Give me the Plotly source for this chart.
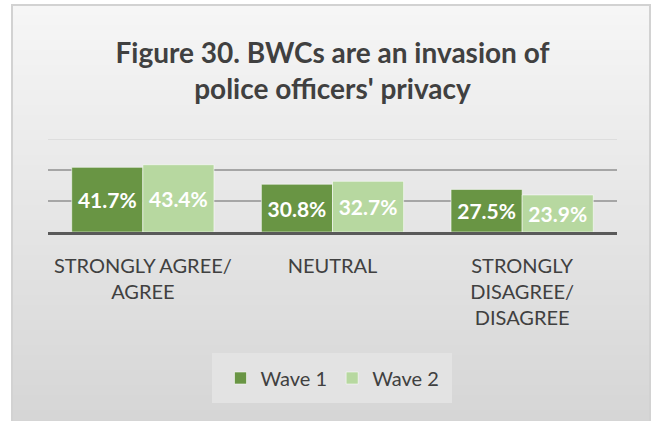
import plotly.graph_objects as go

categories = ["STRONGLY AGREE/<br>AGREE", "NEUTRAL", "STRONGLY<br>DISAGREE/<br>DISAGREE"]
wave1 = [41.7, 30.8, 27.5]
wave2 = [43.4, 32.7, 23.9]
series_names = ["Wave 1", "Wave 2"]
grid_ticks = [20, 40]
top_value = 60

W, H = 654, 421
L, R, T, B = 48, 37, 139, 189
PW = W - L - R
PH = H - T - B


def px_x(px):
    return (px - L) / PW


def px_y(py):
    return (H - B - py) / PH


fig = go.Figure()
for vals, name, col in [(wave1, series_names[0], "#699544"), (wave2, series_names[1], "#B7D8A0")]:
    fig.add_trace(go.Bar(
        x=categories, y=vals, name=name,
        marker=dict(color=col, line=dict(color="rgba(255,255,255,0.55)", width=1)),
        texttemplate="%{y:.1f}%", textposition="inside", insidetextanchor="middle",
        textangle=0, constraintext="none",
        textfont=dict(family="Lato", size=21, color="white", weight="bold"),
    ))

shapes = []
# gradient background bands
x0, x1, y0, y1 = 12, 650, 5, 430
n = 85
top_c, bot_c = 246, 213
for i in range(n):
    ya = y0 + (y1 - y0) * i / n
    yb = y0 + (y1 - y0) * (i + 1) / n + 0.6
    c = round(top_c + (bot_c - top_c) * i / (n - 1))
    shapes.append(dict(type="rect", xref="paper", yref="paper", layer="below",
                       x0=px_x(x0), x1=px_x(x1), y0=px_y(ya), y1=px_y(yb),
                       fillcolor=f"rgb({c},{c},{c})", line=dict(width=0)))
# frame
shapes.append(dict(type="rect", xref="paper", yref="paper", layer="below",
                   x0=px_x(x0), x1=px_x(x1), y0=px_y(y0), y1=px_y(y1),
                   fillcolor="rgba(0,0,0,0)", line=dict(color="#d2d2d2", width=2)))
# legend box
shapes.append(dict(type="rect", xref="paper", yref="paper", layer="below",
                   x0=px_x(212), x1=px_x(452), y0=px_y(353), y1=px_y(403),
                   fillcolor="#e3e3e3", line=dict(width=0)))
# top lighter gridline
shapes.append(dict(type="line", xref="paper", yref="y", layer="below",
                   x0=0, x1=1, y0=top_value, y1=top_value,
                   line=dict(color="#d8d8d8", width=1.5)))

fig.update_layout(
    width=W, height=H,
    margin=dict(l=L, r=R, t=T, b=B, pad=0),
    paper_bgcolor="white", plot_bgcolor="rgba(0,0,0,0)",
    barmode="group", bargap=0.25, bargroupgap=0.0,
    font=dict(family="Lato", color="#404040"),
    title=dict(text="Figure 30. BWCs are an invasion of<br>police officers' privacy",
               x=0.5, xanchor="center", xref="paper", y=1 - 63 / H, yanchor="middle",
               yref="container",
               font=dict(family="Lato", size=28, color="#404040", weight="bold")),
    showlegend=True,
    legend=dict(orientation="h", x=0.5, xanchor="center", xref="paper",
                y=px_y(378), yanchor="middle", bgcolor="rgba(0,0,0,0)",
                font=dict(family="Lato", size=20, color="#404040"),
                itemwidth=30, traceorder="normal"),
    shapes=shapes,
)
fig.update_xaxes(showline=True, linecolor="#595959", linewidth=3, ticks="",
                 tickfont=dict(family="Lato", size=20, color="#404040"),
                 ticklabelstandoff=14, showgrid=False, fixedrange=True)
fig.update_yaxes(range=[0, top_value], tickvals=grid_ticks, showticklabels=False,
                 showgrid=True, gridcolor="#a6a6a6", gridwidth=1.5, zeroline=False,
                 showline=False, fixedrange=True)

fig.write_html("out.html", config={"displayModeBar": False},
               post_script="document.body.style.margin='0';document.body.style.overflow='hidden';")
